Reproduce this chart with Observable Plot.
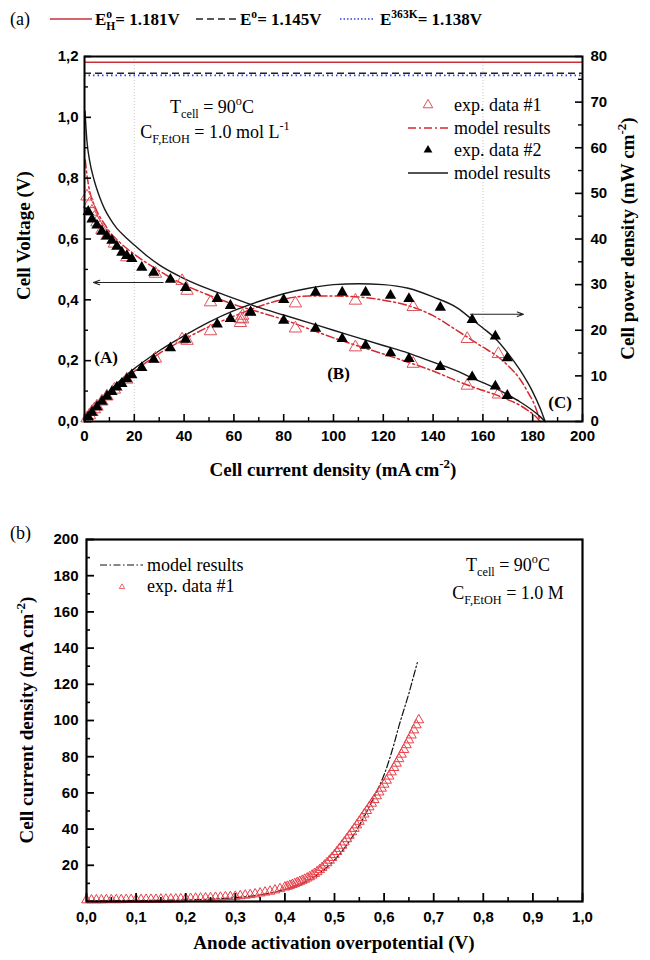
<!DOCTYPE html>
<html><head><meta charset="utf-8">
<script src="https://cdn.jsdelivr.net/npm/d3@7"></script>
<script src="https://cdn.jsdelivr.net/npm/@observablehq/plot@0.6"></script>
<style>
html,body{margin:0;padding:0;background:#fff;}
#wrap{width:650px;}
#wrap svg{display:block;}
text{white-space:pre;}
</style></head><body><div id="wrap"></div>
<script>
// ================= Panel (a) data =================
// reference potentials (V)
const refVolts = [1.181, 1.145, 1.138];
// faint vertical guide lines (mA cm-2)
const guideCurrents = [20, 160];
// exp. data #1 (open red triangles)
const exp1Current = [1, 2, 3, 4, 5, 7, 9, 12, 17, 28.5, 39.2, 41.2, 50.6, 62.6, 63.5, 84.7, 108.8, 132, 153.7, 166.2];
const exp1Voltage = [0.74, 0.715, 0.69, 0.67, 0.655, 0.63, 0.61, 0.585, 0.54, 0.486, 0.462, 0.43, 0.392, 0.338, 0.348, 0.306, 0.244, 0.19, 0.118, 0.089];
const exp1Power   = [0.7, 1.4, 2.1, 2.7, 3.3, 4.4, 5.5, 7.0, 9.2, 13.8, 18.0, 17.7, 19.8, 21.6, 22.4, 25.9, 26.5, 25.1, 18.1, 14.8];
// exp. data #2 (filled black triangles)
const exp2Current = [1.5, 3, 5, 7, 9, 11, 13, 15, 17, 19, 23, 27.8, 34.5, 40.6, 53.3, 58.6, 66.7, 80, 92.8, 103.5, 112.9, 122.9, 130.3, 142.9, 155.7, 165, 169.8];
const exp2Voltage = [0.69, 0.665, 0.645, 0.625, 0.61, 0.595, 0.575, 0.556, 0.545, 0.535, 0.506, 0.49, 0.467, 0.44, 0.404, 0.381, 0.358, 0.332, 0.306, 0.272, 0.25, 0.225, 0.206, 0.18, 0.146, 0.116, 0.085];
const exp2Power   = [1.0, 2.0, 3.2, 4.4, 5.5, 6.5, 7.5, 8.3, 9.3, 10.2, 11.8, 13.6, 16.1, 18.0, 21.3, 22.5, 24.0, 26.7, 28.3, 28.3, 28.3, 27.6, 26.9, 25.0, 22.3, 18.7, 13.9];
// model results for #1 (red dash-dot)
const model1Current = [0.3, 1, 2, 4, 6, 8, 10, 14, 20, 30, 40, 50, 60, 70, 80, 90, 100, 110, 120, 130, 140, 150, 160, 165, 170, 175, 178, 181, 183];
const model1Voltage = [0.86, 0.81, 0.76, 0.71, 0.675, 0.65, 0.625, 0.59, 0.55, 0.495, 0.45, 0.415, 0.385, 0.36, 0.335, 0.305, 0.275, 0.248, 0.222, 0.195, 0.166, 0.132, 0.102, 0.0885, 0.072, 0.0526, 0.0365, 0.018, 0];
const model1Power   = [0.26, 0.81, 1.5, 2.8, 4.05, 5.2, 6.25, 8.3, 11.0, 14.9, 18.0, 20.8, 23.1, 25.2, 26.8, 27.5, 27.5, 27.3, 26.6, 25.4, 23.2, 19.8, 16.3, 14.6, 12.3, 9.2, 6.5, 3.3, 0];
// model results for #2 (black solid)
const model2Current = [0.2, 1, 2, 4, 6, 8, 10, 13, 16, 20, 25, 30, 40, 50, 60, 70, 80, 90, 100, 110, 120, 130, 140, 150, 156, 160, 165, 170, 175, 180, 183, 185];
const model2Voltage = [1.02, 0.92, 0.86, 0.79, 0.74, 0.70, 0.67, 0.635, 0.61, 0.58, 0.545, 0.515, 0.47, 0.435, 0.405, 0.375, 0.35, 0.325, 0.30, 0.275, 0.25, 0.225, 0.195, 0.165, 0.142, 0.128, 0.11, 0.088, 0.064, 0.036, 0.016, 0];
const model2Power   = [0.2, 0.92, 1.7, 3.2, 4.4, 5.6, 6.7, 8.3, 9.8, 11.6, 13.6, 15.5, 18.8, 21.8, 24.3, 26.3, 28.0, 29.2, 30.0, 30.2, 30.0, 29.2, 27.3, 24.8, 22.2, 20.5, 18.2, 15.0, 11.2, 6.5, 2.9, 0];
// region labels
const regionText = ["(A)", "(B)", "(C)"];
const regionCurrent = [8.7, 102, 191];
const regionVoltage = [0.21, 0.158, 0.0625];
// arrows (left one on voltage axis, right one on power axis)
const arrowVolt = {from: 31.6, to: 3.6, at: 0.457};
const arrowPow = {from: 155, to: 176.3, at: 23.5};
// ticks
const xTicksA = [0, 20, 40, 60, 80, 100, 120, 140, 160, 180, 200];
const xMinorA = [10, 30, 50, 70, 90, 110, 130, 150, 170, 190];
const vTicks = [0, 0.2, 0.4, 0.6, 0.8, 1.0, 1.2];
const vMinor = [0.1, 0.3, 0.5, 0.7, 0.9, 1.1];
const pTicks = [0, 10, 20, 30, 40, 50, 60, 70, 80];
const pMinor = [5, 15, 25, 35, 45, 55, 65, 75];

// ================= Panel (b) data =================
const expEta = [0,0.01,0.02,0.03,0.04,0.05,0.06,0.07,0.08,0.09,0.10,0.11,0.12,0.13,0.14,0.15,0.16,0.17,0.18,0.19,0.20,
  0.21,0.22,0.23,0.24,0.25,0.26,0.27,0.28,0.29,0.30,0.31,0.32,0.33,0.34,0.35,0.36,0.37,0.38,0.39,0.40,
  0.405,0.41,0.415,0.42,0.425,0.43,0.435,0.44,0.445,0.45,0.455,0.46,0.465,0.47,0.475,0.48,0.485,0.49,0.495,0.50,
  0.505,0.51,0.515,0.52,0.525,0.53,0.535,0.54,0.545,0.55,0.555,0.56,0.565,0.57,0.575,0.58,0.585,0.59,0.595,0.60,
  0.605,0.61,0.615,0.62,0.625,0.63,0.635,0.64,0.645,0.65,0.655,0.66,0.665,0.67];
const expJ = [0.8,0.8,0.8,0.8,0.9,0.9,0.9,0.9,1.0,1.0,1.0,1.0,1.1,1.1,1.1,1.2,1.2,1.3,1.3,1.4,1.5,
  1.6,1.7,1.8,1.9,2.0,2.2,2.3,2.5,2.6,2.8,3.1,3.4,3.7,4.1,4.6,5.1,5.6,6.3,7.0,7.9,
  8.3,8.8,9.3,9.8,10.4,11.0,11.6,12.2,12.9,13.6,14.5,15.4,16.4,17.5,18.7,20.0,21.3,22.7,24.2,25.8,
  27.5,29.2,31.0,32.8,34.6,36.5,38.4,40.3,42.2,44.2,46.2,48.2,50.2,52.2,54.2,56.2,58.3,60.4,62.5,64.7,
  66.9,69.2,71.5,73.9,76.3,78.8,81.3,83.9,86.5,89.2,91.9,94.7,97.5,100.3];
const modelEta = [0, 0.05, 0.10, 0.15, 0.20, 0.25, 0.30, 0.35, 0.40, 0.42, 0.44, 0.46, 0.48, 0.50, 0.52, 0.54, 0.56, 0.58, 0.60, 0.62, 0.63, 0.64, 0.65, 0.66, 0.667];
const modelJ   = [0.3, 0.4, 0.5, 0.65, 0.9, 1.3, 2.1, 3.7, 6.6, 8.4, 10.7, 13.8, 17.8, 23, 29.5, 37.5, 47, 58, 70, 87, 97, 106, 115, 125, 132];
const xTicksB = [0, 0.1, 0.2, 0.3, 0.4, 0.5, 0.6, 0.7, 0.8, 0.9, 1.0];
const xMinorB = [0.05, 0.15, 0.25, 0.35, 0.45, 0.55, 0.65, 0.75, 0.85, 0.95];
const yTicksB = [20, 40, 60, 80, 100, 120, 140, 160, 180, 200];
const yMinorB = [10, 30, 50, 70, 90, 110, 130, 150, 170, 190];

// ================= helpers =================
const SERIF = "'Liberation Serif','Times New Roman',serif";
const SANS = "'Liberation Sans',Arial,sans-serif";
const comma1 = d => d.toFixed(1).replace(".", ",");
const pScale = 1.2 / 80; // power axis (0-80) mapped onto voltage axis (0-1.2)

function rich(svg, parts, o) {
  const size = o.size || 18;
  const g = svg.append("g");
  const t = g.append("text")
    .attr("text-anchor", "start")
    .attr("font-family", o.family || SERIF)
    .attr("font-size", size)
    .attr("font-weight", o.weight || "normal")
    .attr("fill", o.fill || "black");
  let cur = 0, prevW = 0;
  for (const p of parts) {
    const seg = typeof p === "string" ? {t: p} : p;
    const target = seg.sup ? -0.42 * size : seg.sub ? 0.3 * size : 0;
    const ts = t.append("tspan").text(seg.t);
    if (seg.sup || seg.sub) ts.attr("font-size", size * 0.68);
    if (target !== cur) ts.attr("dy", target - cur);
    if (seg.back) ts.attr("dx", -prevW);
    cur = target;
    prevW = ts.node().getComputedTextLength();
  }
  const bb = t.node().getBBox();
  const shift = o.anchor === "middle" ? bb.x + bb.width / 2 : o.anchor === "end" ? bb.x + bb.width : 0;
  g.attr("transform", `translate(${o.x},${o.y}) rotate(${o.rotate || 0}) translate(${-shift},0)`);
  return g;
}

const zip = (keys, ...arrs) => arrs[0].map((_, i) => Object.fromEntries(keys.map((k, j) => [k, arrs[j][i]])));

// ================= Panel (a) =================
const WA = 650, HA = 490, mtA = 56, mbA = 69, mlA = 84, mrA = 68;
const FWA = WA - mlA - mrA, FHA = HA - mtA - mbA;
const e1 = zip(["c", "v", "p"], exp1Current, exp1Voltage, exp1Power);
const e2 = zip(["c", "v", "p"], exp2Current, exp2Voltage, exp2Power);
const m1 = zip(["c", "v", "p"], model1Current, model1Voltage, model1Power);
const m2 = zip(["c", "v", "p"], model2Current, model2Voltage, model2Power);
const regions = zip(["t", "c", "v"], regionText, regionCurrent, regionVoltage);

const RED = "#d8282e", REDTRI = "#e0505a";
const R1 = 4.6, R2 = 4.2;

const plotA = Plot.plot({
  width: WA, height: HA, marginTop: mtA, marginBottom: mbA, marginLeft: mlA, marginRight: mrA,
  x: {domain: [0, 200]},
  y: {domain: [0, 1.2]},
  style: {fontFamily: SANS, fontSize: "15px", fontWeight: "bold", background: "white", color: "black", overflow: "visible"},
  marks: [
    Plot.ruleX(guideCurrents, {x: d => d, stroke: "#b5b5b5", strokeWidth: 0.8, strokeDasharray: "1,2"}),
    Plot.ruleY([refVolts[0]], {y: d => d, stroke: "#c8303a", strokeWidth: 1.6}),
    Plot.ruleY([refVolts[1]], {y: d => d, stroke: "#222", strokeWidth: 1.4, strokeDasharray: "7,4"}),
    Plot.ruleY([refVolts[2]], {y: d => d, stroke: "#3340e0", strokeWidth: 1.6, strokeDasharray: "1.5,3"}),
    Plot.line(m1, {x: "c", y: "v", stroke: RED, strokeWidth: 1.5, strokeDasharray: "8,3,2,3", curve: "monotone-x"}),
    Plot.line(m1, {x: "c", y: d => d.p * pScale, stroke: RED, strokeWidth: 1.5, strokeDasharray: "8,3,2,3", curve: "monotone-x"}),
    Plot.line(m2, {x: "c", y: "v", stroke: "#1a1a1a", strokeWidth: 1.4, curve: "monotone-x"}),
    Plot.line(m2, {x: "c", y: d => d.p * pScale, stroke: "#1a1a1a", strokeWidth: 1.4, curve: "monotone-x"}),
    Plot.dot(e1, {x: "c", y: "v", symbol: "triangle", r: R1, stroke: REDTRI, strokeWidth: 1, fill: "none"}),
    Plot.dot(e1, {x: "c", y: d => d.p * pScale, symbol: "triangle", r: R1, stroke: REDTRI, strokeWidth: 1, fill: "none"}),
    Plot.dot(e2, {x: "c", y: "v", symbol: "triangle", r: R2, fill: "black", stroke: "none"}),
    Plot.dot(e2, {x: "c", y: d => d.p * pScale, symbol: "triangle", r: R2, fill: "black", stroke: "none"}),
    Plot.arrow([arrowVolt], {x1: "from", x2: "to", y1: "at", y2: "at", stroke: "#222", strokeWidth: 1.1, headLength: 9, headAngle: 40}),
    Plot.arrow([arrowPow], {x1: "from", x2: "to", y1: d => d.at * pScale, y2: d => d.at * pScale, stroke: "#222", strokeWidth: 1.1, headLength: 9, headAngle: 40}),
    Plot.text(regions, {x: "c", y: "v", text: "t", fontFamily: SERIF, fontWeight: "bold", fontSize: 17}),
    Plot.tickX(xTicksA, {x: d => d, insetTop: FHA - 7, stroke: "black", strokeWidth: 1.6}),
    Plot.tickX(xMinorA, {x: d => d, insetTop: FHA - 4, stroke: "black", strokeWidth: 1.4}),
    Plot.tickY(vTicks, {y: d => d, insetRight: FWA - 7, stroke: "black", strokeWidth: 1.6}),
    Plot.tickY(vMinor, {y: d => d, insetRight: FWA - 4, stroke: "black", strokeWidth: 1.4}),
    Plot.tickY(pTicks, {y: d => d * pScale, insetLeft: FWA - 7, stroke: "black", strokeWidth: 1.6}),
    Plot.tickY(pMinor, {y: d => d * pScale, insetLeft: FWA - 4, stroke: "black", strokeWidth: 1.4}),
    Plot.frame({stroke: "black", strokeWidth: 2}),
    Plot.axisX({ticks: xTicksA, tickSize: 0, tickPadding: 9, tickFormat: d => String(d), label: null}),
    Plot.axisY({ticks: vTicks, tickSize: 0, tickPadding: 6, tickFormat: comma1, label: null}),
    Plot.axisY({anchor: "right", ticks: pTicks.map(p => p * pScale), tickSize: 0, tickPadding: 8, tickFormat: d => String(Math.round(d / pScale)), label: null})
  ]
});

// ================= Panel (b) =================
const WB = 650, HB = 470, mtB = 49, mbB = 59, mlB = 86, mrB = 68;
const FWB = WB - mlB - mrB, FHB = HB - mtB - mbB;
const expB = zip(["eta", "j"], expEta, expJ);
const modB = zip(["eta", "j"], modelEta, modelJ);
const RB = 3.6;

const plotB = Plot.plot({
  width: WB, height: HB, marginTop: mtB, marginBottom: mbB, marginLeft: mlB, marginRight: mrB,
  x: {domain: [0, 1]},
  y: {domain: [0, 200]},
  style: {fontFamily: SANS, fontSize: "15px", fontWeight: "bold", background: "white", color: "black", overflow: "visible"},
  marks: [
    Plot.line(modB, {x: "eta", y: "j", stroke: "#111", strokeWidth: 1.2, strokeDasharray: "7,2.5,1.5,2.5", curve: "monotone-x"}),
    Plot.dot(expB, {x: "eta", y: "j", symbol: "triangle", r: RB, stroke: "#e8404a", strokeWidth: 1, fill: "none"}),
    Plot.tickX(xTicksB, {x: d => d, insetTop: FHB - 8, stroke: "black", strokeWidth: 1.8}),
    Plot.tickX(xMinorB, {x: d => d, insetTop: FHB - 4, stroke: "black", strokeWidth: 1.6}),
    Plot.tickY(yTicksB, {y: d => d, insetRight: FWB - 8, stroke: "black", strokeWidth: 1.8}),
    Plot.tickY(yMinorB, {y: d => d, insetRight: FWB - 4, stroke: "black", strokeWidth: 1.6}),
    Plot.frame({stroke: "black", strokeWidth: 2.2}),
    Plot.axisX({ticks: xTicksB, tickSize: 0, tickPadding: 10, tickFormat: comma1, label: null}),
    Plot.axisY({ticks: yTicksB, tickSize: 0, tickPadding: 8, tickFormat: d => String(d), label: null})
  ]
});

const wrap = document.getElementById("wrap");
wrap.appendChild(plotA);
wrap.appendChild(plotB);

// ---------- annotations panel (a) ----------
const sa = d3.select(plotA);
// top legend
rich(sa, ["(a)"], {x: 10, y: 25, size: 18});
sa.append("line").attr("x1", 50).attr("x2", 92).attr("y1", 19).attr("y2", 19).attr("stroke", "#c8303a").attr("stroke-width", 1.6);
rich(sa, ["E", {t: "o", sup: true}, {t: "H", sub: true, back: true}, "= " + refVolts[0].toFixed(3) + "V"], {x: 95, y: 25, size: 17, weight: "bold"});
sa.append("line").attr("x1", 196).attr("x2", 236).attr("y1", 19).attr("y2", 19).attr("stroke", "#222").attr("stroke-width", 1.4).attr("stroke-dasharray", "7,4");
rich(sa, ["E", {t: "o", sup: true}, "= " + refVolts[1].toFixed(3) + "V"], {x: 240, y: 25, size: 17, weight: "bold"});
sa.append("line").attr("x1", 340).attr("x2", 374).attr("y1", 19).attr("y2", 19).attr("stroke", "#3340e0").attr("stroke-width", 1.6).attr("stroke-dasharray", "1.5,2");
rich(sa, ["E", {t: "363K", sup: true}, "= " + refVolts[2].toFixed(3) + "V"], {x: 380, y: 25, size: 17, weight: "bold"});

// conditions text
rich(sa, ["T", {t: "cell", sub: true}, " = 90", {t: "o", sup: true}, "C"], {x: 212, y: 113, size: 18, anchor: "middle"});
rich(sa, ["C", {t: "F,EtOH", sub: true}, " = 1.0 mol L", {t: "-1", sup: true}], {x: 215, y: 138, size: 18, anchor: "middle"});

// right legend
const legA = [105, 128, 150, 173];
sa.append("path").attr("d", d3.symbol(d3.symbolTriangle2, Math.PI * R1 * R1)()).attr("transform", `translate(428,${legA[0]})`).attr("fill", "none").attr("stroke", REDTRI);
rich(sa, ["exp. data #1"], {x: 454, y: legA[0] + 6, size: 18});
sa.append("line").attr("x1", 408).attr("x2", 448).attr("y1", legA[1]).attr("y2", legA[1]).attr("stroke", RED).attr("stroke-width", 1.5).attr("stroke-dasharray", "8,3,2,3");
rich(sa, ["model results"], {x: 454, y: legA[1] + 6, size: 18});
sa.append("path").attr("d", d3.symbol(d3.symbolTriangle2, Math.PI * R2 * R2)()).attr("transform", `translate(428,${legA[2]})`).attr("fill", "black");
rich(sa, ["exp. data #2"], {x: 454, y: legA[2] + 6, size: 18});
sa.append("line").attr("x1", 408).attr("x2", 448).attr("y1", legA[3]).attr("y2", legA[3]).attr("stroke", "#1a1a1a").attr("stroke-width", 1.4);
rich(sa, ["model results"], {x: 454, y: legA[3] + 6, size: 18});

// axis titles
rich(sa, ["Cell current density (mA cm", {t: "-2", sup: true}, ")"], {x: mlA + FWA / 2, y: 476, size: 19, weight: "bold", anchor: "middle"});
rich(sa, ["Cell Voltage (V)"], {x: 30, y: mtA + FHA / 2 - 3, size: 19, weight: "bold", anchor: "middle", rotate: -90});
rich(sa, ["Cell power density (mW cm", {t: "-2", sup: true}, ")"], {x: 634, y: mtA + FHA / 2, size: 19, weight: "bold", anchor: "middle", rotate: -90});

// ---------- annotations panel (b) ----------
const sb = d3.select(plotB);
rich(sb, ["(b)"], {x: 10, y: 49, size: 18});
sb.append("line").attr("x1", 100).attr("x2", 143).attr("y1", 75).attr("y2", 75).attr("stroke", "#111").attr("stroke-width", 1.2).attr("stroke-dasharray", "7,2.5,1.5,2.5");
rich(sb, ["model results"], {x: 147, y: 81, size: 18});
sb.append("path").attr("d", d3.symbol(d3.symbolTriangle2, Math.PI * 2.6 * 2.6)()).attr("transform", "translate(122,97)").attr("fill", "none").attr("stroke", "#e8404a").attr("stroke-width", 0.8);
rich(sb, ["exp. data #1"], {x: 147, y: 102, size: 18});
rich(sb, ["T", {t: "cell", sub: true}, " = 90", {t: "o", sup: true}, "C"], {x: 508, y: 81, size: 18, anchor: "middle"});
rich(sb, ["C", {t: "F,EtOH", sub: true}, " = 1.0 M"], {x: 508, y: 109, size: 18, anchor: "middle"});
rich(sb, ["Cell current density (mA cm", {t: "-2", sup: true}, ")"], {x: 33, y: mtB + FHB / 2, size: 19, weight: "bold", anchor: "middle", rotate: -90});
rich(sb, ["Anode activation overpotential (V)"], {x: mlB + FWB / 2, y: 459, size: 19, weight: "bold", anchor: "middle"});
</script>
</body></html>
